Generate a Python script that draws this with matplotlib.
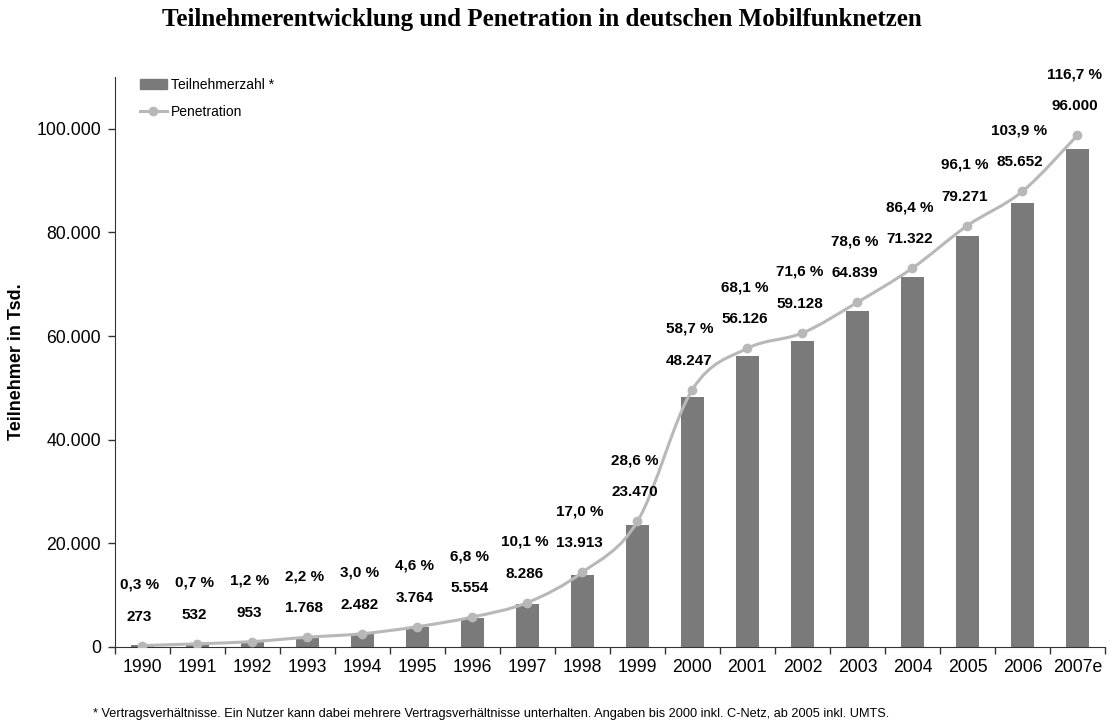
import matplotlib
matplotlib.use("Agg")
import matplotlib.pyplot as plt
from matplotlib.path import Path
from matplotlib.patches import PathPatch
from matplotlib.lines import Line2D
import numpy as np

# data
years = ['1990', '1991', '1992', '1993', '1994', '1995', '1996', '1997', '1998',
         '1999', '2000', '2001', '2002', '2003', '2004', '2005', '2006', '2007e']
subscribers = [273, 532, 953, 1768, 2482, 3764, 5554, 8286, 13913, 23470,
               48247, 56126, 59128, 64839, 71322, 79271, 85652, 96000]
penetration = [0.3, 0.7, 1.2, 2.2, 3.0, 4.6, 6.8, 10.1, 17.0, 28.6,
               58.7, 68.1, 71.6, 78.6, 86.4, 96.1, 103.9, 116.7]

bar_color = "#7a7a7a"
line_color = "#b8b8b8"

plt.rcParams['font.family'] = ['Liberation Sans', 'DejaVu Sans']


def de_num(v):
    return f"{v:,}".replace(",", ".")


def de_pct(v):
    return f"{v:.1f}".replace(".", ",") + " %"


def smooth_path(xs, ys):
    # catmull-rom curve as cubic bezier segments (like excel's smoothed line)
    pts = np.column_stack([xs, ys]).astype(float)
    verts = [pts[0]]
    codes = [Path.MOVETO]
    n = len(pts)
    for i in range(n - 1):
        p0 = pts[i - 1] if i > 0 else pts[i]
        p1 = pts[i]
        p2 = pts[i + 1]
        p3 = pts[i + 2] if i + 2 < n else pts[i + 1]
        c1 = p1 + (p2 - p0) / 6.0
        c2 = p2 - (p3 - p1) / 6.0
        verts += [c1, c2, p2]
        codes += [Path.CURVE4] * 3
    return Path(verts, codes)


fig = plt.figure(figsize=(11.15, 7.26), dpi=100)
ax = fig.add_axes([0.103, 0.109, 0.888, 0.785])
x = np.arange(len(years))

ax.bar(x, subscribers, width=0.42, color=bar_color, zorder=2)
ax.set_xlim(-0.5, len(years) - 0.5)
ax.set_ylim(0, 110000)
ax.set_yticks(range(0, 100001, 20000))
ax.set_yticklabels([de_num(v) for v in range(0, 100001, 20000)], fontsize=12.7)
ax.set_xticks(x)
ax.set_xticklabels(years, fontsize=12.7)
ax.set_xticks(np.arange(-0.5, len(years)), minor=True)
ax.tick_params(axis='x', which='major', length=0, pad=9)
ax.tick_params(axis='x', which='minor', length=5, width=1, color='#333333', direction='out')
ax.tick_params(axis='y', length=5, width=1, color='#333333', direction='out', pad=5)
for s in ['top', 'right']:
    ax.spines[s].set_visible(False)
for s in ['left', 'bottom']:
    ax.spines[s].set_color('#333333')
ax.set_ylabel("Teilnehmer in Tsd.", fontsize=13, fontweight='bold', labelpad=8)

# penetration on hidden secondary scale
ax2 = ax.twinx()
ax2.set_ylim(0, 130)
ax2.set_xlim(ax.get_xlim())
ax2.axis('off')
ax2.add_patch(PathPatch(smooth_path(x, penetration), facecolor='none',
                        edgecolor=line_color, lw=2.2, zorder=3))
ax2.plot(x, penetration, 'o', color=line_color, markersize=6, zorder=4)

for i in range(len(years)):
    ax2.annotate(de_num(subscribers[i]), (x[i], penetration[i]),
                 xytext=(-3, 29), textcoords='offset pixels',
                 ha='center', va='center', fontsize=11, fontweight='bold')
    ax2.annotate(de_pct(penetration[i]), (x[i], penetration[i]),
                 xytext=(-3, 61), textcoords='offset pixels',
                 ha='center', va='center', fontsize=11, fontweight='bold')

handles = [plt.Rectangle((0, 0), 1, 1, color=bar_color),
           Line2D([], [], color=line_color, lw=2.2, marker='o', markersize=6)]
ax2.legend(handles, ["Teilnehmerzahl *", "Penetration"], loc='upper left',
           bbox_to_anchor=(0.013, 1.02), frameon=False, fontsize=10,
           handlelength=1.9, handletextpad=0.3, labelspacing=0.9)

fig.text(0.486, 0.973, "Teilnehmerentwicklung und Penetration in deutschen Mobilfunknetzen",
         ha='center', va='center', fontsize=18, fontweight='bold', family='Liberation Serif')
fig.text(0.083, 0.017, "* Vertragsverhältnisse. Ein Nutzer kann dabei mehrere Vertragsverhältnisse "
         "unterhalten. Angaben bis 2000 inkl. C-Netz, ab 2005 inkl. UMTS.",
         ha='left', va='center', fontsize=9.2)

fig.savefig("out.png", dpi=100)
